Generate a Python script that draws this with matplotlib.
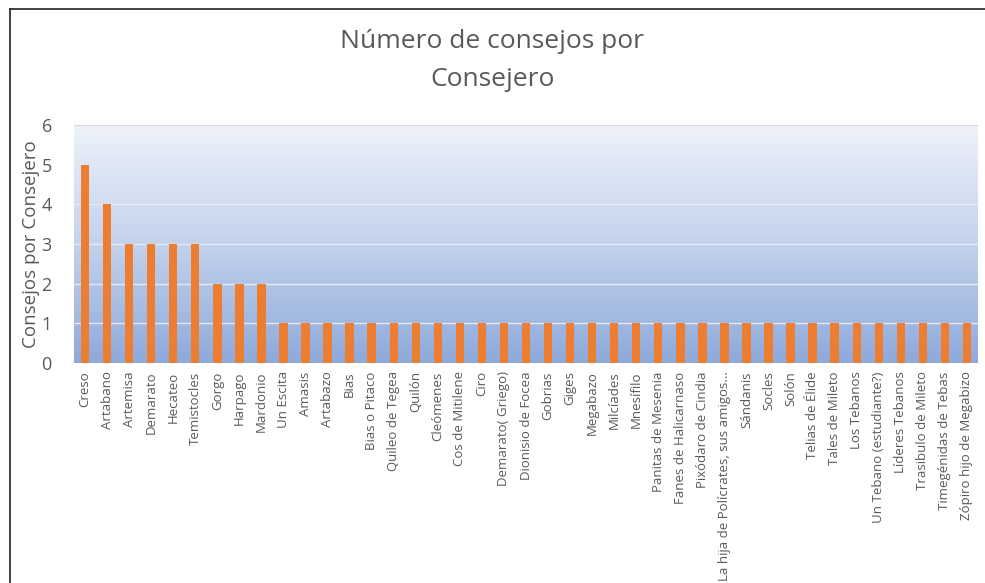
import matplotlib.pyplot as plt
import numpy as np
from matplotlib.colors import LinearSegmentedColormap

plt.rcParams['font.family'] = ['Open Sans', 'DejaVu Sans']

consejeros = ['Creso', 'Artabano', 'Artemisa', 'Demarato', 'Hecateo', 'Temistocles',
              'Gorgo', 'Harpago', 'Mardonio', 'Un Escita', 'Amasis', 'Artabazo', 'Bias',
              'Bias o Pitaco', 'Quileo de Tegea', 'Quilón', 'Cleómenes', 'Cos de Mitilene',
              'Ciro', 'Demarato( Griego)', 'Dionisio de Focea', 'Gobrias', 'Giges',
              'Megabazo', 'Milcíades', 'Mnesífilo', 'Panitas de Mesenia',
              'Fanes de Halicarnaso', 'Pixódaro de Cindia',
              'La hija de Polícrates, sus amigos...', 'Sándanis', 'Socles', 'Solón',
              'Telias de Élide', 'Tales de Mileto', 'Los Tebanos',
              'Un Tebano (estudiante?)', 'Líderes Tebanos', 'Trasibulo de Mileto',
              'Timegénidas de Tebas', 'Zópiro hijo de Megabizo']
consejos = [5, 4, 3, 3, 3, 3, 2, 2, 2] + [1] * 32

gris = '#595959'
fig = plt.figure(figsize=(9.85, 5.83), dpi=100)
ax = fig.add_axes([74 / 985, 1 - 363 / 583, (978 - 74) / 985, (363 - 125) / 583])

x = np.arange(len(consejeros))
xlim = (-0.5, len(consejeros) - 0.5)

# gradient background of the plot area
cmap = LinearSegmentedColormap.from_list('fondo', ['#eef2fa', '#c3d2ec', '#8eaadb'])
grad = np.linspace(0, 1, 256).reshape(-1, 1)
ax.imshow(grad, aspect='auto', cmap=cmap, extent=(xlim[0], xlim[1], 0, 6),
          origin='upper', zorder=0)

ax.bar(x, consejos, width=0.38, color='#ed7d31', zorder=3)

for v in range(1, 7):
    ax.axhline(v, color='#d9d9d9' if v == 6 else '#e4e9f3', linewidth=1.0, zorder=1)

ax.set_xlim(*xlim)
ax.set_ylim(0, 6)
ax.set_yticks(range(7))
ax.set_xticks(x)
ax.set_xticklabels(consejeros, rotation=90, fontsize=9.5, color=gris)
ax.tick_params(axis='y', labelsize=13, colors=gris, length=0, pad=16)
ax.tick_params(axis='x', length=0, pad=6)
for s in ax.spines.values():
    s.set_visible(False)
ax.set_ylabel('Consejos por Consejero', fontsize=13.5, color=gris, labelpad=1)

fig.text(0.5, 1 - 42 / 583, 'Número de consejos por', ha='center', va='center',
         fontsize=19, color=gris)
fig.text(0.5, 1 - 79 / 583, 'Consejero', ha='center', va='center',
         fontsize=19, color=gris)

# chart frame (only top and left edges visible in the crop)
fig.add_artist(plt.Line2D([9.5 / 985, 1], [1 - 8.5 / 583] * 2, color='#333333', linewidth=1.3,
                          transform=fig.transFigure))
fig.add_artist(plt.Line2D([9.5 / 985] * 2, [0, 1 - 8.5 / 583], color='#333333', linewidth=1.3,
                          transform=fig.transFigure))

fig.savefig('out.png', dpi=100, facecolor='white')
